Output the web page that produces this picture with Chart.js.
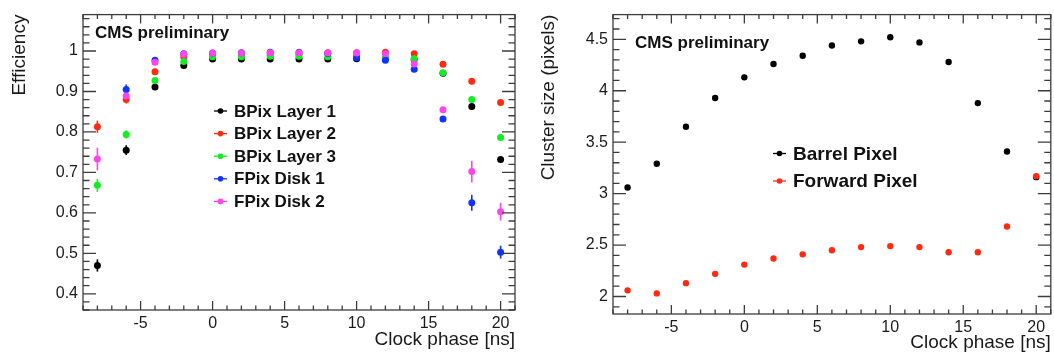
<!DOCTYPE html>
<html>
<head>
<meta charset="utf-8">
<script src="https://cdn.jsdelivr.net/npm/chart.js@4.4.0/dist/chart.umd.min.js"></script>
<style>
  body { margin: 0; background: #fff; }
  #wrap { position: relative; width: 1054px; height: 354px; }
  #effChart { position: absolute; left: 0; top: 0; }
  #sizeChart { position: absolute; left: 530px; top: 0; }
</style>
</head>
<body>
<div id="wrap">
  <canvas id="effChart" width="530" height="354"></canvas>
  <canvas id="sizeChart" width="524" height="354"></canvas>
</div>
<script>
// clock phase scan points [ns]
const phase = [-8, -6, -4, -2, 0, 2, 4, 6, 8, 10, 12, 14, 16, 18, 20];

// hit efficiency per layer / disk
const bpixL1 = [0.470, 0.755, 0.911, 0.964, 0.980, 0.980, 0.980, 0.980, 0.980, 0.981, 0.981, 0.979, 0.945, 0.863, 0.732];
const bpixL2 = [0.813, 0.880, 0.949, 0.985, 0.990, 0.990, 0.990, 0.991, 0.996, 0.996, 0.997, 0.993, 0.967, 0.925, 0.873];
const bpixL3 = [0.668, 0.794, 0.927, 0.974, 0.986, 0.986, 0.987, 0.987, 0.986, 0.987, 0.985, 0.981, 0.946, 0.880, 0.786];
const fpixD1 = [null, 0.905, 0.977, 0.993, 0.995, 0.996, 0.997, 0.997, 0.994, 0.984, 0.977, 0.955, 0.832, 0.625, 0.503];
const fpixD2 = [0.733, 0.889, 0.972, 0.992, 0.995, 0.995, 0.996, 0.996, 0.995, 0.995, 0.993, 0.968, 0.855, 0.702, 0.603];

// stat. errors on efficiency
const bpixL1Err = [0.015, 0.012, 0.005, 0.003, 0.002, 0.002, 0.002, 0.002, 0.002, 0.002, 0.002, 0.003, 0.004, 0.005, 0.006];
const bpixL2Err = [0.015, 0.010, 0.004, 0.003, 0.002, 0.002, 0.002, 0.002, 0.002, 0.002, 0.002, 0.003, 0.004, 0.005, 0.005];
const bpixL3Err = [0.016, 0.010, 0.004, 0.003, 0.002, 0.002, 0.002, 0.002, 0.002, 0.002, 0.002, 0.003, 0.004, 0.005, 0.006];
const fpixD1Err = [0, 0.012, 0.005, 0.003, 0.002, 0.002, 0.002, 0.002, 0.002, 0.002, 0.003, 0.004, 0.006, 0.020, 0.016];
const fpixD2Err = [0.028, 0.012, 0.005, 0.003, 0.002, 0.002, 0.002, 0.002, 0.002, 0.002, 0.003, 0.004, 0.006, 0.027, 0.022];

// mean cluster size [pixels]
const barrelSize = [3.06, 3.29, 3.65, 3.93, 4.13, 4.26, 4.34, 4.44, 4.48, 4.52, 4.47, 4.28, 3.88, 3.41, 3.16];
const forwardSize = [2.06, 2.03, 2.13, 2.22, 2.31, 2.37, 2.41, 2.45, 2.48, 2.49, 2.48, 2.43, 2.43, 2.68, 3.17];

// labelled ticks
const phaseTicks = [-5, 0, 5, 10, 15, 20];
const effTicks = [0.4, 0.5, 0.6, 0.7, 0.8, 0.9, 1.0];
const sizeTicks = [2, 2.5, 3, 3.5, 4, 4.5];

Chart.defaults.font.family = "'Liberation Sans', Arial, sans-serif";
Chart.defaults.color = "#1a1a1a";

function points(ys) {
  return phase.map((x, i) => ({ x: x, y: ys[i] }));
}

function series(label, ys, errs, color, order, radius) {
  return {
    label: label,
    data: points(ys),
    errors: errs,
    backgroundColor: color,
    borderColor: color,
    pointBackgroundColor: color,
    pointBorderWidth: 0,
    pointRadius: radius,
    pointHoverRadius: radius,
    showLine: false,
    order: order,
  };
}

// ROOT-like frame: ticks on all four sides pointing inwards, error bars, legend, label
const rootFrame = {
  id: "rootFrame",
  beforeDatasetsDraw(chart) {
    const ctx = chart.ctx;
    const ys = chart.scales.y;
    chart.data.datasets.forEach((ds, i) => {
      if (!ds.errors) return;
      const meta = chart.getDatasetMeta(i);
      ctx.save();
      ctx.strokeStyle = ds.borderColor;
      ctx.lineWidth = 1.6;
      meta.data.forEach((pt, j) => {
        const v = ds.data[j].y;
        const e = ds.errors[j];
        if (v == null || !e) return;
        ctx.beginPath();
        ctx.moveTo(pt.x, ys.getPixelForValue(v - e));
        ctx.lineTo(pt.x, ys.getPixelForValue(v + e));
        ctx.stroke();
      });
      ctx.restore();
    });
  },
  afterDraw(chart, args, o) {
    const ctx = chart.ctx;
    const ca = chart.chartArea;
    const xs = chart.scales.x, ys = chart.scales.y;
    ctx.save();
    ctx.strokeStyle = "#3c3c3c";
    ctx.lineWidth = 1.3;
    ctx.strokeRect(ca.left, ca.top, ca.right - ca.left, ca.bottom - ca.top);

    ctx.beginPath();
    for (let v = Math.ceil(xs.min); v <= xs.max; v++) {
      const px = xs.getPixelForValue(v);
      const len = v % 5 === 0 ? 9 : 4.5;
      ctx.moveTo(px, ca.bottom); ctx.lineTo(px, ca.bottom - len);
      ctx.moveTo(px, ca.top); ctx.lineTo(px, ca.top + len);
    }
    const n0 = Math.ceil(ys.min / o.yMinor - 1e-6);
    const n1 = Math.floor(ys.max / o.yMinor + 1e-6);
    for (let n = n0; n <= n1; n++) {
      const py = ys.getPixelForValue(n * o.yMinor);
      const len = n % o.yMajorEvery === 0 ? 13 : 6.5;
      ctx.moveTo(ca.left, py); ctx.lineTo(ca.left + len, py);
      ctx.moveTo(ca.right, py); ctx.lineTo(ca.right - len, py);
    }
    ctx.stroke();

    // legend
    ctx.font = "bold " + o.legendFont + "px 'Liberation Sans', Arial, sans-serif";
    ctx.textBaseline = "middle";
    ctx.textAlign = "left";
    chart.data.datasets.forEach((ds, i) => {
      const y = o.legendY + i * o.legendStep;
      ctx.strokeStyle = ds.borderColor;
      ctx.fillStyle = ds.borderColor;
      ctx.lineWidth = 1.3;
      ctx.beginPath();
      ctx.moveTo(o.legendX, y);
      ctx.lineTo(o.legendX + 13, y);
      ctx.stroke();
      ctx.beginPath();
      ctx.arc(o.legendX + 6.5, y, 2.8, 0, Math.PI * 2);
      ctx.fill();
      ctx.fillStyle = "#111";
      ctx.fillText(ds.label, o.legendX + 20, y + 1);
    });

    ctx.font = "bold 17px 'Liberation Sans', Arial, sans-serif";
    ctx.fillStyle = "#111";
    ctx.fillText("CMS preliminary", o.labelX, o.labelY);
    ctx.restore();
  },
};

function phaseAxis(height) {
  return {
    type: "linear",
    min: -9,
    max: 21,
    afterBuildTicks: (s) => { s.ticks = phaseTicks.map((v) => ({ value: v })); },
    afterFit: (s) => { s.height = height; },
    grid: { display: false, drawTicks: false },
    border: { display: false },
    ticks: { font: { size: 16 }, padding: 4, callback: (v) => String(v) },
    title: { display: true, text: "Clock phase [ns]", align: "end", font: { size: 19 }, padding: { top: 0, bottom: height > 42 ? 3 : 0 } },
  };
}

const effChart = new Chart(document.getElementById("effChart"), {
  type: "scatter",
  data: {
    datasets: [
      series("BPix Layer 1", bpixL1, bpixL1Err, "#000000", 5, 3.5),
      series("BPix Layer 2", bpixL2, bpixL2Err, "#ff2a10", 4, 3.5),
      series("BPix Layer 3", bpixL3, bpixL3Err, "#11ee22", 3, 3.5),
      series("FPix Disk 1", fpixD1, fpixD1Err, "#1133ff", 2, 3.5),
      series("FPix Disk 2", fpixD2, fpixD2Err, "#ff44ee", 1, 3.5),
    ],
  },
  options: {
    responsive: false,
    animation: false,
    layout: { padding: { top: 10, right: 15, left: 0, bottom: 0 } },
    plugins: {
      legend: { display: false },
      tooltip: { enabled: false },
      rootFrame: { yMinor: 0.02, yMajorEvery: 5, legendX: 214, legendY: 111, legendStep: 22.6, legendFont: 17, labelX: 95, labelY: 33 },
    },
    scales: {
      x: phaseAxis(44),
      y: {
        type: "linear",
        min: 0.36,
        max: 1.09,
        afterBuildTicks: (s) => { s.ticks = effTicks.map((v) => ({ value: v })); },
        afterFit: (s) => { s.width = 83; },
        grid: { display: false, drawTicks: false },
        border: { display: false },
        ticks: { font: { size: 16 }, padding: 5, callback: (v) => String(Math.round(v * 10) / 10) },
        title: { display: true, text: "Efficiency", align: "end", font: { size: 19 }, padding: { top: 8, bottom: 0 } },
      },
    },
  },
  plugins: [rootFrame],
});

const sizeChart = new Chart(document.getElementById("sizeChart"), {
  type: "scatter",
  data: {
    datasets: [
      series("Barrel Pixel", barrelSize, null, "#000000", 2, 3.2),
      series("Forward Pixel", forwardSize, null, "#ff2a10", 1, 3.2),
    ],
  },
  options: {
    responsive: false,
    animation: false,
    layout: { padding: { top: 13, right: 2, left: 0, bottom: 0 } },
    plugins: {
      legend: { display: false },
      tooltip: { enabled: false },
      rootFrame: { yMinor: 0.1, yMajorEvery: 5, legendX: 243, legendY: 153.5, legendStep: 27.5, legendFont: 19, labelX: 105, labelY: 43 },
    },
    scales: {
      x: phaseAxis(40),
      y: {
        type: "linear",
        min: 1.83,
        max: 4.74,
        afterBuildTicks: (s) => { s.ticks = sizeTicks.map((v) => ({ value: v })); },
        afterFit: (s) => { s.width = 83; },
        grid: { display: false, drawTicks: false },
        border: { display: false },
        ticks: { font: { size: 16 }, padding: 5, callback: (v) => String(v) },
        title: { display: true, text: "Cluster size (pixels)", align: "end", font: { size: 19 }, padding: { top: 7, bottom: 0 } },
      },
    },
  },
  plugins: [rootFrame],
});
</script>
</body>
</html>
